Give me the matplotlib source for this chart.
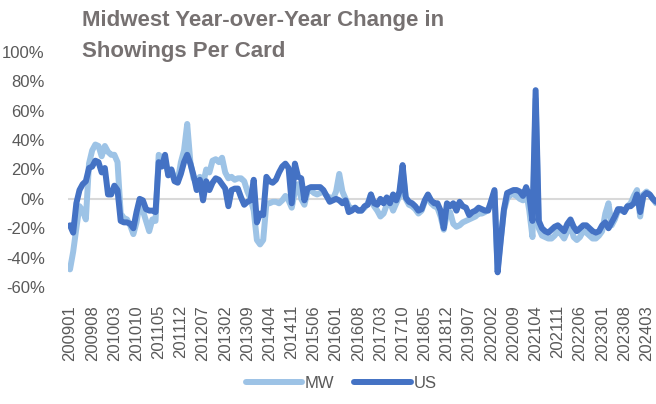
import numpy as np
import pandas as pd
import matplotlib
matplotlib.use("Agg")
import matplotlib.pyplot as plt

# months 200901 .. 202406
months = pd.period_range("2009-01", "2024-06", freq="M").strftime("%Y%m").tolist()

# YoY change in showings per card, percent
mw_values = [
    -48, -36, -20, -5, -8, -14, 24, 33, 37, 36, 29, 36,
    32, 30, 30, 25, -10, -13, -14, -18, -24, -16, -3, -8,
    -15, -22, -14, -15, 30, 28, 25, 18, 20, 14, 12, 25,
    33, 51, 25, 14, 12, 15, 10, 20, 18, 26, 27, 25,
    28, 18, 14, 15, 13, 14, 14, 12, 5, 0, -8, -28,
    -31, -28, -3, -3, -2, -2, -3, -1, 2, -1, -6, 5,
    10, 0, -4, 5, 6, 4, 3, 4, 5, 2, 1, 0,
    5, 17, 5, 0, -5, -7, -6, -8, -8, -6, -3, 3,
    -5, -8, -12, -10, -4, -2, -8, -3, 2, 20, 0, -4,
    -5, -7, -10, -8, -2, 1, -3, -5, -6, -12, -21, -10,
    -9, -17, -19, -18, -16, -15, -14, -13, -12, -10, -10, -9,
    -7, -3, 5, -48, -27, -8, 0, 3, 3, 2, 0, -1,
    5, -8, -26, 68, -20, -25, -26, -27, -27, -25, -22, -24,
    -27, -22, -18, -26, -28, -26, -22, -23, -25, -27, -27, -25,
    -22, -10, -3, -18, -14, -8, -8, -8, -5, -3, 2, 6,
    -12, 3, 5, 3, 0, -3,
]
us_values = [
    -18, -23, -3, 6, 10, 12, 21, 22, 26, 25, 18, 21,
    3, 3, 9, 6, -15, -16, -16, -17, -20, -9, 0, -1,
    -7, -8, -8, -9, 25, 22, 30, 16, 20, 12, 11, 17,
    25, 30, 24, 16, 6, 13, -1, 12, 6, 11, 14, 13,
    10, 7, -5, 6, 7, 7, 1, -4, -2, -1, 13, -16,
    -10, -11, 15, 12, 11, 13, 18, 22, 24, 21, -3, 24,
    15, 14, -1, 7, 8, 8, 8, 8, 6, 2, -2, -1,
    0, -1, -3, -1, -9, -8, -6, -8, -8, -5, -4, 3,
    -3, -4, 0, -3, 1, -3, 3, -1, 5, 23, 1, -2,
    -3, -5, -8, -7, -1, 3, -1, -3, -3, -8, -20, -3,
    -5, -3, -8, -2, -5, -6, -11, -9, -8, -6, -7, -8,
    -8, -1, 6, -50, -28, -7, 4, 5, 6, 6, 5, 2,
    8, 2, -15, 74, -15, -20, -22, -23, -21, -19, -18, -20,
    -22, -17, -14, -19, -22, -20, -18, -18, -20, -22, -23, -22,
    -18, -16, -20, -16, -12, -7, -7, -9, -5, -5, -3, 3,
    -9, 2, 4, 3, 0, -2,
]
y_ticks = [-60, -40, -20, 0, 20, 40, 60, 80, 100]

plt.rcParams['font.family'] = ['Liberation Sans', 'DejaVu Sans']
grey = '#595959'

fig = plt.figure(figsize=(6.56, 4.04), dpi=100)
ax = fig.add_axes([0.1043, 0.2896, 0.8957, 0.5817])

x = np.arange(len(months))
ax.axhline(0, color='#D9D9D9', lw=1.5, zorder=1)
ax.plot(x, mw_values, color='#9DC3E6', lw=4.3, label='MW', zorder=2,
        solid_joinstyle='round', solid_capstyle='round')
ax.plot(x, us_values, color='#4472C4', lw=4.3, label='US', zorder=3,
        solid_joinstyle='round', solid_capstyle='round')

ax.set_xlim(-0.5, len(months) - 1)
ax.set_ylim(-60, 100)
ax.set_yticks(y_ticks)
ax.set_yticklabels([f'{v}%' for v in y_ticks])
ax.set_xticks(x[::7])
ax.set_xticklabels(months[::7], rotation=90)
ax.tick_params(axis='y', length=0, pad=17, labelsize=12, labelcolor=grey)
ax.tick_params(axis='x', length=0, pad=13, labelsize=12, labelcolor=grey)
for s in ax.spines.values():
    s.set_visible(False)

# two-line title, top left
fig.text(82 / 656, 1 - 10 / 404, 'Midwest Year-over-Year Change in\nShowings Per Card',
         ha='left', va='top', fontsize=16, fontweight='bold', color='#767171',
         linespacing=1.6)

fig.legend(loc='lower center', bbox_to_anchor=(341 / 656, -0.005), ncol=2, frameon=False,
           fontsize=12, labelcolor=grey, handlelength=3.4, handletextpad=0.15,
           columnspacing=1.2)

fig.savefig('out.png', dpi=100)
